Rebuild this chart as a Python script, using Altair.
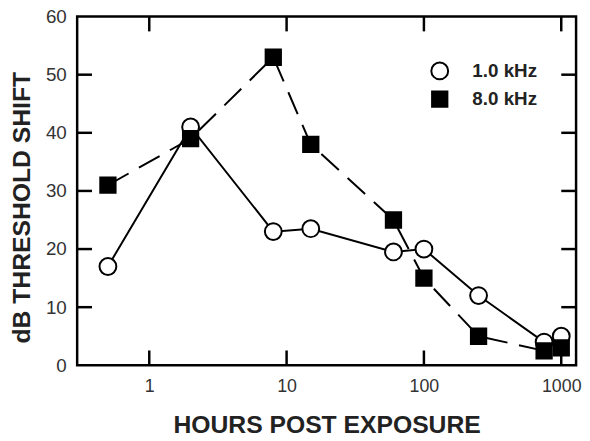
import altair as alt
import pandas as pd

# ---- data ----
hours = [0.5, 2, 8, 15, 60, 100, 250, 750, 1000]
shift_1k = [17, 41, 23, 23.5, 19.5, 20, 12, 4, 5]
shift_8k = [31, 39, 53, 38, 25, 15, 5, 2.5, 3]
series = ["1.0 kHz", "8.0 kHz"]
x_ticks = [1, 10, 100, 1000]
y_ticks = [0, 10, 20, 30, 40, 50, 60]
y_inner_ticks = [10, 20, 30, 40, 50]

rows = []
for h, v in zip(hours, shift_1k):
    rows.append({"hours": h, "shift": v, "series": series[0]})
for h, v in zip(hours, shift_8k):
    rows.append({"hours": h, "shift": v, "series": series[1]})
df = pd.DataFrame(rows)
xt = pd.DataFrame({"t": x_ticks})
yt = pd.DataFrame({"v": y_inner_ticks})

W, H = 505, 353
FONT = "Liberation Sans"
TL = 15  # inward tick length

xscale = alt.Scale(type="log", domain=[0.2985, 1282], nice=False)
yscale = alt.Scale(domain=[0, 60], nice=False, zero=False)

xaxis = alt.Axis(values=x_ticks, format="~g", title="HOURS POST EXPOSURE",
                 ticks=False, domain=False, grid=False, labelPadding=13,
                 labelFontSize=18, labelColor="#333", labelFont=FONT,
                 titleFont=FONT, titleFontSize=25, titleFontWeight="bold",
                 titleColor="#222", titleBaseline="alphabetic", titleY=68)
yaxis = alt.Axis(values=y_ticks, title="dB THRESHOLD SHIFT",
                 ticks=False, domain=False, grid=False, labelPadding=11,
                 labelFontSize=19, labelColor="#333", labelFont=FONT,
                 titleFont=FONT, titleFontSize=25, titleFontWeight="bold",
                 titleColor="#222", titleBaseline="alphabetic", titleX=-48,
                 titleY=193, titleAngle=-90)

legend = alt.Legend(title="", orient="none", legendX=357, legendY=45,
                    padding=0, labelFont=FONT, labelFontSize=19,
                    labelFontWeight="bold", labelColor="#222",
                    labelOffset=23, rowPadding=3,
                    symbolStrokeWidth=2, symbolOpacity=1)

base = alt.Chart(df)

line_1k = base.transform_filter(alt.datum.series == series[0]).mark_line(
    color="black", strokeWidth=2
).encode(
    x=alt.X("hours:Q", scale=xscale, axis=xaxis),
    y=alt.Y("shift:Q", scale=yscale, axis=yaxis),
)

line_8k = base.transform_filter(alt.datum.series == series[1]).mark_line(
    color="black", strokeWidth=2, strokeDash=[24, 12]
).encode(
    x=alt.X("hours:Q", scale=xscale),
    y=alt.Y("shift:Q", scale=yscale),
)

points = base.mark_point(opacity=1, strokeWidth=2, filled=True).encode(
    x=alt.X("hours:Q", scale=xscale),
    y=alt.Y("shift:Q", scale=yscale),
    shape=alt.Shape("series:N", scale=alt.Scale(domain=series, range=["circle", "square"]),
                    legend=legend),
    fill=alt.Fill("series:N", scale=alt.Scale(domain=series, range=["white", "black"]),
                  legend=legend),
    stroke=alt.Stroke("series:N", scale=alt.Scale(domain=series, range=["black", "black"]),
                      legend=legend),
    size=alt.Size("series:N", scale=alt.Scale(domain=series, range=[290, 240]),
                  legend=legend),
)

tick_bottom = alt.Chart(xt).mark_rule(color="black", strokeWidth=2.5).encode(
    x=alt.X("t:Q", scale=xscale), y=alt.value(H), y2=alt.value(H - TL))
tick_top = alt.Chart(xt).mark_rule(color="black", strokeWidth=2.5).encode(
    x=alt.X("t:Q", scale=xscale), y=alt.value(0), y2=alt.value(TL))
tick_left = alt.Chart(yt).mark_rule(color="black", strokeWidth=2.5).encode(
    y=alt.Y("v:Q", scale=yscale), x=alt.value(0), x2=alt.value(TL))
tick_right = alt.Chart(yt).mark_rule(color="black", strokeWidth=2.5).encode(
    y=alt.Y("v:Q", scale=yscale), x=alt.value(W), x2=alt.value(W - TL))

chart = alt.layer(
    tick_bottom, tick_top, tick_left, tick_right, line_1k, line_8k, points
).properties(
    width=W, height=H,
    padding={"left": 70, "top": 6, "right": 6, "bottom": 78},
    autosize=alt.AutoSizeParams(type="none"),
    background="white",
).configure_view(
    stroke="black", strokeWidth=2.5
)

chart.save("out.html", embed_options={"renderer": "svg", "actions": False})
